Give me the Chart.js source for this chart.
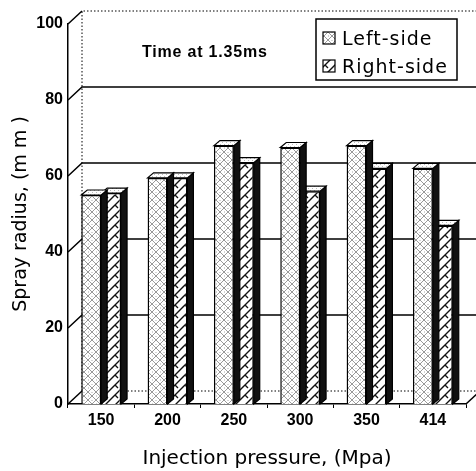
<!DOCTYPE html>
<html>
<head>
<meta charset="utf-8">
<script src="https://cdn.jsdelivr.net/npm/chart.js@4.4.0/dist/chart.umd.min.js"></script>
<style>
  body { margin: 0; background: #fff; }
  #wrap { width: 476px; height: 471px; }
</style>
</head>
<body>
<div id="wrap"><canvas id="sprayChart"></canvas></div>
<script>
// data
const pressures = ['150', '200', '250', '300', '350', '414'];
const leftSide = [55, 59.5, 68, 67.5, 68, 62];
const rightSide = [55.5, 59.5, 63.5, 56, 62, 47];
const yTicks = [0, 20, 40, 60, 80, 100];

const wall = { dx: 14, dy: 13 };   // depth of the back wall
const box = { dx: 6, dy: 5 };      // depth of each bar

const canvas = document.getElementById('sprayChart');
const mainCtx = canvas.getContext('2d');

//helper to build a hatch fill
const makePattern = (size, draw) => {
    const c = document.createElement('canvas');
    c.width = c.height = size;
    const g = c.getContext('2d');
    g.fillStyle = '#fff';
    g.fillRect(0, 0, size, size);
    draw(g, size);
    return mainCtx.createPattern(c, 'repeat');
};

const leftFill = makePattern(8, (g, s) => {
    g.strokeStyle = '#999';
    g.lineWidth = 1;
    g.beginPath();
    g.moveTo(0, 0); g.lineTo(s, s);
    g.moveTo(0, s); g.lineTo(s, 0);
    g.stroke();
    g.fillStyle = '#aaa';
    g.fillRect(0, 3.5, 1, 1);
    g.fillRect(3.5, 0, 1, 1);
});

const rightFill = makePattern(10, (g, s) => {
    g.strokeStyle = '#111';
    g.lineWidth = 1.4;
    g.beginPath();
    g.moveTo(0, s); g.lineTo(s, 0);
    g.moveTo(-1, 1); g.lineTo(1, -1);
    g.moveTo(s - 1, s + 1); g.lineTo(s + 1, s - 1);
    g.moveTo(5, 5); g.lineTo(8, 8);
    g.stroke();
});

const topFill = makePattern(4, (g) => {
    g.fillStyle = '#bbb';
    g.fillRect(0, 0, 1, 1);
    g.fillRect(2, 2, 1, 1);
});

const backWall = {
    id: 'backWall',
    beforeDatasetsDraw(chart) {
        const { ctx, chartArea: a, scales: { y } } = chart;
        const W = chart.width;
        const bx = a.left + wall.dx;
        const top = y.getPixelForValue(100) - wall.dy;
        const floor = y.getPixelForValue(0) - wall.dy;
        ctx.save();
        ctx.strokeStyle = '#000';
        ctx.lineWidth = 1;
        ctx.setLineDash([1.5, 2]);
        ctx.beginPath();
        ctx.moveTo(bx, floor); ctx.lineTo(bx, top); ctx.lineTo(W, top);
        ctx.moveTo(bx, floor); ctx.lineTo(W, floor);
        ctx.stroke();
        ctx.setLineDash([]);
        ctx.lineWidth = 1.5;
        yTicks.forEach(v => {
            const py = y.getPixelForValue(v);
            ctx.beginPath();
            ctx.moveTo(a.left, py);
            ctx.lineTo(bx, py - wall.dy);
            if (v > 0 && v < 100) ctx.lineTo(W, py - wall.dy);
            ctx.stroke();
        });
        //floor corner on the right
        ctx.beginPath();
        ctx.moveTo(a.right, a.bottom);
        ctx.lineTo(a.right + wall.dx, a.bottom - wall.dy);
        ctx.stroke();
        ctx.restore();
    }
};

const barFaces = {
    id: 'barFaces',
    afterDatasetDraw(chart, args) {
        const { ctx } = chart;
        ctx.save();
        ctx.strokeStyle = '#000';
        ctx.lineWidth = 1.2;
        args.meta.data.forEach(bar => {
            const { x, y, base, width } = bar.getProps(['x', 'y', 'base', 'width'], true);
            const l = x - width / 2, r = x + width / 2;
            ctx.beginPath();
            ctx.moveTo(r, y); ctx.lineTo(r + box.dx, y - box.dy);
            ctx.lineTo(r + box.dx, base - box.dy); ctx.lineTo(r, base);
            ctx.closePath();
            ctx.fillStyle = '#111';
            ctx.fill(); ctx.stroke();
            ctx.beginPath();
            ctx.moveTo(l, y); ctx.lineTo(l + box.dx, y - box.dy);
            ctx.lineTo(r + box.dx, y - box.dy); ctx.lineTo(r, y);
            ctx.closePath();
            ctx.fillStyle = topFill;
            ctx.fill(); ctx.stroke();
        });
        ctx.restore();
    }
};

const notes = {
    id: 'notes',
    afterDraw(chart) {
        const { ctx } = chart;
        ctx.save();
        ctx.fillStyle = '#000';
        ctx.textBaseline = 'alphabetic';
        ctx.font = 'bold 16px "Liberation Sans", Arial, sans-serif';
        ctx.letterSpacing = '0.8px';
        ctx.fillText('Time at 1.35ms', 142, 57);

        //legend box
        ctx.lineWidth = 1.5;
        ctx.strokeStyle = '#000';
        ctx.strokeRect(316, 19, 141, 61);
        const items = [['Left-side', leftFill, 45], ['Right-side', rightFill, 73]];
        ctx.font = '19px "DejaVu Sans", sans-serif';
        ctx.letterSpacing = '1px';
        items.forEach(([label, fill, base]) => {
            ctx.fillStyle = fill;
            ctx.fillRect(323, base - 13, 12, 12);
            ctx.lineWidth = 1.2;
            ctx.strokeRect(323, base - 13, 12, 12);
            ctx.fillStyle = '#000';
            ctx.fillText(label, 342, base);
        });
        ctx.restore();
    }
};

new Chart(canvas, {
    type: 'bar',
    data: {
        labels: pressures,
        datasets: [
            { label: 'Left-side', data: leftSide, backgroundColor: leftFill, borderColor: '#000', borderWidth: 1.5 },
            { label: 'Right-side', data: rightSide, backgroundColor: rightFill, borderColor: '#000', borderWidth: 1.5 }
        ]
    },
    options: {
        responsive: true,
        maintainAspectRatio: false,
        animation: false,
        layout: { padding: { top: 24, right: 10, left: 0, bottom: 0 } },
        datasets: { bar: { categoryPercentage: 0.6, barPercentage: 1.0 } },
        plugins: { legend: { display: false }, tooltip: { enabled: false } },
        scales: {
            x: {
                afterFit: s => { s.height = 67; },
                grid: { display: true, drawOnChartArea: false, offset: true, tickLength: 4, color: '#000' },
                border: { display: true, color: '#000', width: 1.5 },
                ticks: { color: '#000', padding: 3, font: { family: '"Liberation Sans", Arial, sans-serif', size: 16, weight: 'bold' } },
                title: { display: true, text: 'Injection pressure, (Mpa)', color: '#000', padding: { bottom: 0 },
                    font: { family: '"DejaVu Sans", sans-serif', size: 20 } }
            },
            y: {
                min: 0,
                max: 100,
                afterFit: s => { s.width = 68; },
                grid: { display: false, drawTicks: false },
                border: { display: true, color: '#000', width: 1.5 },
                ticks: { stepSize: 20, color: '#000', padding: 5, font: { family: '"Liberation Sans", Arial, sans-serif', size: 16, weight: 'bold' } },
                title: { display: true, text: 'Spray radius, (m m )', color: '#000', padding: { top: 10 },
                    font: { family: '"DejaVu Sans", sans-serif', size: 19 } }
            }
        }
    },
    plugins: [backWall, barFaces, notes]
});
</script>
</body>
</html>
